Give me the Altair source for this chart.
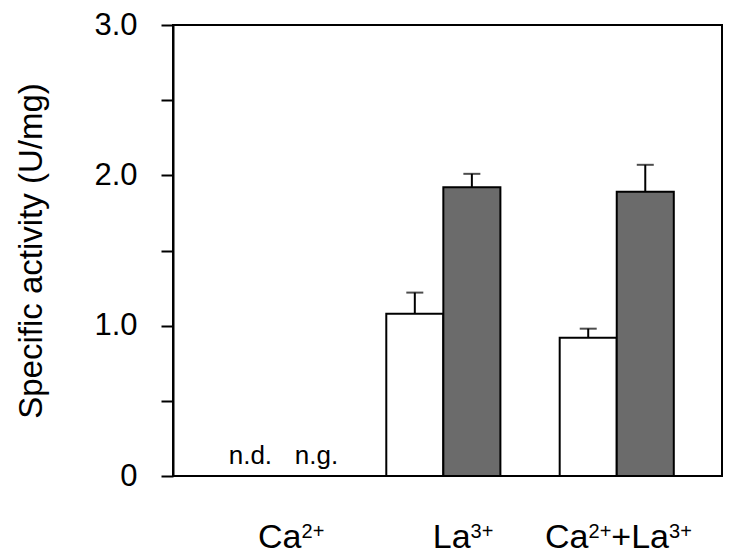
import altair as alt
import pandas as pd

# ---- data ----
groups = ["Ca2+", "La3+", "Ca2+La3+"]
group_index = [0, 1, 2]
white_vals = [None, 1.08, 0.92]
gray_vals = [None, 1.92, 1.89]
white_err_top = [None, 1.22, 0.98]
gray_err_top = [None, 2.01, 2.07]
nd_labels = ["n.d.", "n.g."]

FONT = "Liberation Sans"
BW = 0.329  # bar width in group units

rows = []
for g, gi in zip(groups, group_index):
    for series, vals, errs, off in (("white", white_vals, white_err_top, -BW),
                                    ("gray", gray_vals, gray_err_top, 0.0)):
        v = vals[gi]
        if v is None:
            continue
        rows.append({"group": g, "series": series, "value": v, "err": errs[gi],
                     "x0": gi + off, "x1": gi + off + BW, "xc": gi + off + BW / 2})
bars_df = pd.DataFrame(rows)

xscale = alt.Scale(domain=[-0.559, 2.607], nice=False, zero=False)
yscale = alt.Scale(domain=[0, 3.0], nice=False)

base = alt.Chart(bars_df)

bars = base.mark_bar(stroke="black", strokeWidth=2).encode(
    x=alt.X("x0:Q", scale=xscale, axis=None),
    x2="x1:Q",
    y=alt.Y("value:Q", scale=yscale,
            axis=alt.Axis(values=[0, 0.5, 1.0, 1.5, 2.0, 2.5, 3.0],
                          labelExpr="datum.value == 0 ? '0' : (datum.value % 1 == 0 ? format(datum.value, '.1f') : '')",
                          title="Specific activity (U/mg)")),
    y2=alt.datum(0),
    fill=alt.Fill("series:N", scale=alt.Scale(domain=["white", "gray"], range=["white", "#6b6b6b"]), legend=None),
)

err_line = base.mark_rule(color="black", strokeWidth=2).encode(
    x=alt.X("xc:Q", scale=xscale), y=alt.Y("value:Q", scale=yscale), y2="err:Q")
err_cap = base.mark_tick(color="black", orient="horizontal", size=17, thickness=2).encode(
    x=alt.X("xc:Q", scale=xscale), y=alt.Y("err:Q", scale=yscale))

# n.d. / n.g. texts for the first group
nd_layers = []
for lab, xc, dx in ((nd_labels[0], group_index[0] - BW / 2, 9), (nd_labels[1], group_index[0] + BW / 2, 18)):
    d = pd.DataFrame({"label": [lab], "xc": [xc]})
    nd_layers.append(alt.Chart(d).mark_text(font=FONT, fontSize=26, baseline="alphabetic", dx=dx).encode(
        x=alt.X("xc:Q", scale=xscale), y=alt.datum(0.08), text="label:N"))

# category labels with superscripts, built in pieces
pieces = [
    (0, "Ca", False, -11.9), (0, "2+", True, 31.6),
    (1, "La", False, -10.6), (1, "3+", True, 27.2),
    (2, "Ca", False, -71.7), (2, "2+", True, -28.2), (2, "+La", False, -5.4), (2, "3+", True, 52.3),
]
cat_layers = []
for gi, txt, sup, dx in pieces:
    d = pd.DataFrame({"xc": [gi], "label": [txt]})
    cat_layers.append(
        alt.Chart(d).mark_text(font=FONT, fontSize=20 if sup else 34, align="left",
                               baseline="alphabetic", dx=dx, dy=-10 if sup else 0).encode(
            x=alt.X("xc:Q", scale=xscale), y=alt.datum(-0.48), text="label:N"))

chart = alt.layer(bars, err_line, err_cap, *nd_layers, *cat_layers).properties(
    width=549, height=451,
    autosize=alt.AutoSizeParams(type="none"),
    padding={"left": 165, "top": 17, "right": 2, "bottom": 79},
).configure_view(stroke="black", strokeWidth=2).configure_axis(
    grid=False, domainColor="black", domainWidth=2, tickColor="black", tickWidth=2,
    tickSize=12, labelFont=FONT, labelFontSize=31, labelColor="black", labelPadding=24,
    titleFont=FONT, titleFontSize=33, titleFontWeight="normal", titleColor="black", titlePadding=45,
)

chart.save("out.html", embed_options={"renderer": "svg", "actions": False})
